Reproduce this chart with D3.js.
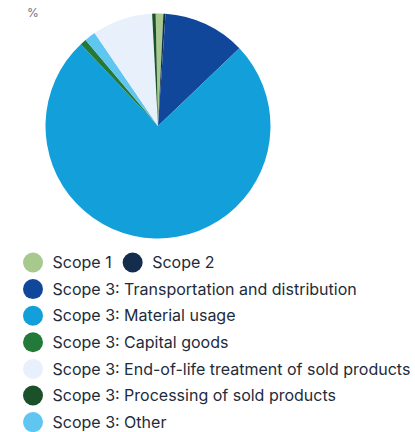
<!DOCTYPE html>
<html>
<head>
<meta charset="utf-8">
<script src="https://cdn.jsdelivr.net/npm/d3@7"></script>
<style>
  html, body { margin: 0; padding: 0; background: #fff; overflow: hidden; }
  svg { display: block; font-family: Inter, "Noto Sans", sans-serif; }
</style>
</head>
<body>
<svg id="chart" width="415" height="432"></svg>
<script>
// Emission shares (%) by scope, in legend order
const categories = [
  "Scope 1",
  "Scope 2",
  "Scope 3: Transportation and distribution",
  "Scope 3: Material usage",
  "Scope 3: Capital goods",
  "Scope 3: End-of-life treatment of sold products",
  "Scope 3: Processing of sold products",
  "Scope 3: Other"
];
const values = [1.1, 0.3, 11.8, 75.1, 0.9, 8.7, 0.5, 1.6];
const colors = ["#a7c98e", "#142d4c", "#11479a", "#139fd9", "#237a38", "#e8f0fb", "#1b5129", "#5fc5f1"];
// Clockwise order of the slices around the pie
const sliceOrder = [0, 1, 2, 3, 4, 7, 5, 6];
const unitLabel = "%";

const svg = d3.select("#chart");
const W = 415;

svg.append("text")
  .attr("x", 27).attr("y", 17)
  .attr("font-size", 12)
  .attr("fill", "#6b7280")
  .text(unitLabel);

const cx = 158, cy = 126, radius = 112.5;
const pie = d3.pie()
  .sort(null)
  .value(i => values[i])
  .startAngle(-1.2 * Math.PI / 180)
  .endAngle(2 * Math.PI - 1.2 * Math.PI / 180);
const arc = d3.arc().innerRadius(0).outerRadius(radius);

svg.append("g")
  .attr("transform", `translate(${cx},${cy})`)
  .selectAll("path")
  .data(pie(sliceOrder))
  .join("path")
  .attr("d", arc)
  .attr("fill", d => colors[d.data]);

// Legend: items flow left to right and wrap onto new rows
const legend = svg.append("g");
const dotR = 10, x0 = 23, rowY0 = 262.5, rowH = 26.6, textGap = 9.5, itemGap = 11;
let x = x0, row = 0;
categories.forEach((name, i) => {
  const item = legend.append("g");
  item.append("circle").attr("r", dotR).attr("fill", colors[i]);
  const t = item.append("text")
    .attr("x", dotR + textGap)
    .attr("dy", "0.35em")
    .attr("font-size", 16)
    .attr("fill", "#1e2b3b")
    .text(name);
  const w = 2 * dotR + textGap + t.node().getComputedTextLength();
  if (x > x0 && x + w > W - 10) { x = x0; row += 1; }
  item.attr("transform", `translate(${x + dotR},${rowY0 + row * rowH})`);
  x += w + itemGap;
});
</script>
</body>
</html>
